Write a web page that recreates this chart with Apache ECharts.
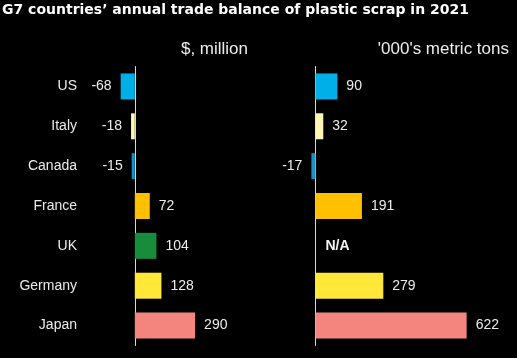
<!DOCTYPE html>
<html>
<head>
<meta charset="utf-8">
<script src="https://cdn.jsdelivr.net/npm/echarts@6/dist/echarts.min.js"></script>
<style>
html,body{margin:0;padding:0;background:#000;}
#chart{width:517px;height:358px;}
</style>
</head>
<body>
<div id="chart"></div>
<script>
const categories = ['US', 'Italy', 'Canada', 'France', 'UK', 'Germany', 'Japan'];
const usdMillion = [-68, -18, -15, 72, 104, 128, 290];
const kTons = [90, 32, -17, 191, null, 279, 622];
const barColors = ['#00aee8', '#fff6b8', '#1b8fc4', '#ffc000', '#188b3d', '#ffe838', '#f4847e'];
const titleText = 'G7 countries\u2019 annual trade balance of plastic scrap in 2021';
const leftUnit = '$, million';
const rightUnit = "'000's metric tons";

const labelFont = 'Liberation Sans, Arial, sans-serif';
const textColor = '#ececec';

function buildData(values) {
  return values.map((v, i) => {
    if (v === null) {
      return {
        value: 0,
        itemStyle: { color: barColors[i] },
        label: { formatter: 'N/A', fontWeight: 'bold', color: '#f4f4f4', distance: 10 }
      };
    }
    return { value: v, itemStyle: { color: barColors[i] } };
  });
}

const chart = echarts.init(document.getElementById('chart'), null, { renderer: 'canvas' });
chart.setOption({
  backgroundColor: '#000',
  animation: false,
  title: [
    { text: titleText, left: 2, top: 3, padding: 0,
      textStyle: { color: '#ffffff', fontSize: 14, fontWeight: 'bold', fontFamily: 'DejaVu Sans, Verdana, sans-serif' } },
    { text: leftUnit, right: 269, top: 41, padding: 0,
      textStyle: { color: textColor, fontSize: 17, fontWeight: 'normal', fontFamily: labelFont } },
    { text: rightUnit, right: 8, top: 41, padding: 0,
      textStyle: { color: textColor, fontSize: 17, fontWeight: 'normal', fontFamily: labelFont } }
  ],
  grid: [
    { left: 114, width: 114.4, top: 66.5, height: 279, outerBoundsMode: 'none', containLabel: false },
    { left: 303.35, width: 182.25, top: 66.5, height: 279, outerBoundsMode: 'none', containLabel: false }
  ],
  xAxis: [
    { type: 'value', gridIndex: 0, min: -100, max: 450, show: false },
    { type: 'value', gridIndex: 1, min: -50, max: 700, show: false }
  ],
  yAxis: [
    { type: 'category', gridIndex: 0, data: categories, inverse: true,
      axisLine: { onZero: true, lineStyle: { color: '#d8d8d8', width: 1 } },
      axisTick: { show: false },
      splitLine: { show: false },
      axisLabel: { margin: 37, color: textColor, fontSize: 14, fontFamily: labelFont } },
    { type: 'category', gridIndex: 1, data: categories, inverse: true,
      axisLine: { onZero: true, lineStyle: { color: '#d8d8d8', width: 1 } },
      axisTick: { show: false },
      splitLine: { show: false },
      axisLabel: { show: false } }
  ],
  series: [
    { type: 'bar', xAxisIndex: 0, yAxisIndex: 0, barWidth: 26,
      data: buildData(usdMillion),
      label: { show: true, position: 'outside', distance: 9, color: textColor, fontSize: 14, fontFamily: labelFont } },
    { type: 'bar', xAxisIndex: 1, yAxisIndex: 1, barWidth: 26,
      data: buildData(kTons),
      label: { show: true, position: 'outside', distance: 9, color: textColor, fontSize: 14, fontFamily: labelFont } }
  ]
});
</script>
</body>
</html>
